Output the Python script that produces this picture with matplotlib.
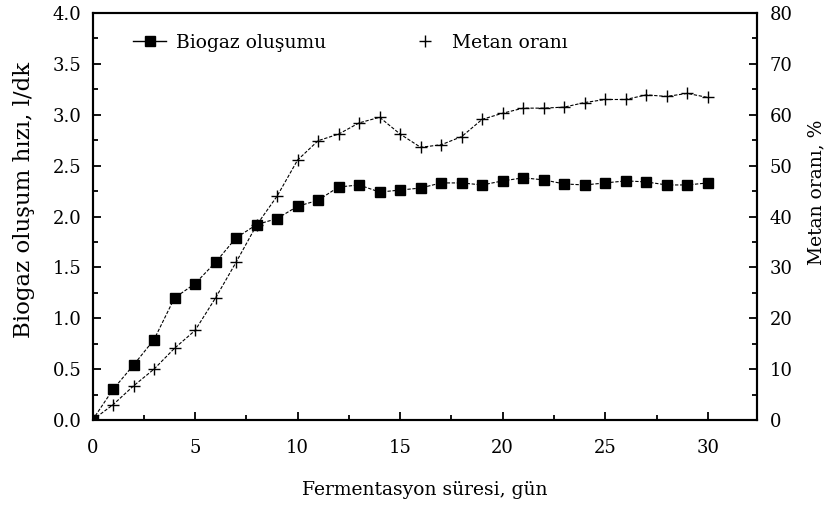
import matplotlib
matplotlib.use("Agg")
import matplotlib.pyplot as plt
from matplotlib.lines import Line2D
from matplotlib.ticker import MultipleLocator, FormatStrFormatter

plt.rcParams['font.family'] = ['DejaVu Serif']

days = list(range(0, 31))
biogaz = [0.0, 0.30, 0.54, 0.79, 1.20, 1.34, 1.55, 1.79, 1.92, 1.98, 2.10,
          2.16, 2.29, 2.31, 2.24, 2.26, 2.28, 2.33, 2.33, 2.31, 2.35,
          2.38, 2.36, 2.32, 2.31, 2.33, 2.35, 2.34, 2.31, 2.31, 2.33]
metan = [0.0, 3.0, 6.7, 10.0, 14.1, 17.6, 24.0, 31.0, 38.3, 44.0, 51.1,
         54.9, 56.2, 58.4, 59.5, 56.2, 53.6, 54.1, 55.7, 59.1, 60.3,
         61.3, 61.3, 61.5, 62.4, 63.0, 63.0, 63.9, 63.6, 64.2, 63.4]

fig = plt.figure(figsize=(8.32, 5.08), dpi=100)
ax = fig.add_axes([92.5/832, 1-420/508, (757-92.5)/832, (420-13)/508])
ax2 = ax.twinx()

ls = (0, (3, 1.5))
ax.plot(days, biogaz, color='black', linestyle=ls, linewidth=0.8,
        marker='s', markersize=6.5, markerfacecolor='black', markeredgecolor='black', zorder=3)
ax2.plot(days, metan, color='black', linestyle=ls, linewidth=0.8,
         marker='+', markersize=8, markeredgewidth=1.0)

ax.set_xlim(0, 32.4)
ax.set_ylim(0, 4.0)
ax2.set_ylim(0, 80)

ax.xaxis.set_major_locator(MultipleLocator(5))
ax.xaxis.set_minor_locator(MultipleLocator(2.5))
ax.yaxis.set_major_locator(MultipleLocator(0.5))
ax.yaxis.set_minor_locator(MultipleLocator(0.25))
ax.yaxis.set_major_formatter(FormatStrFormatter('%.1f'))
ax2.yaxis.set_major_locator(MultipleLocator(10))
ax2.yaxis.set_minor_locator(MultipleLocator(5))

fs = 13
ax.tick_params(axis='both', which='both', direction='in', top=False, right=False,
               labelsize=fs, width=1.3)
ax.tick_params(which='major', length=6)
ax.tick_params(which='minor', length=3.5)
ax.tick_params(axis='y', which='major', pad=8)
ax.tick_params(axis='x', which='major', pad=14)
ax2.tick_params(axis='y', which='both', direction='in', labelsize=fs, width=1.3)
ax2.tick_params(which='major', length=6, pad=9)
ax2.tick_params(which='minor', length=3.5)

for a in (ax, ax2):
    for s in a.spines.values():
        s.set_linewidth(1.5)

ax.set_xlabel('Fermentasyon süresi, gün', fontsize=13.5, labelpad=17)
ax.set_ylabel('Biogaz oluşum hızı, l/dk', fontsize=16.5)
ax.yaxis.set_label_coords(-0.087, 0.54)
ax2.set_ylabel('Metan oranı, %', fontsize=13.5)
ax2.yaxis.set_label_coords(1.076, 0.56)

handles = [Line2D([], [], color='black', linestyle='-', linewidth=1.0, marker='s',
                  markersize=6.5),
           Line2D([], [], color='black', linestyle='none', marker='+', markersize=8,
                  markeredgewidth=1.0)]
ax.legend(handles, ['Biogaz oluşumu', 'Metan oranı'], loc='upper left',
          bbox_to_anchor=(0.035, 0.99), ncol=2, frameon=False, fontsize=13.5,
          columnspacing=4.4, handlelength=1.8, handletextpad=0.5)

fig.savefig('out.png', dpi=100)
